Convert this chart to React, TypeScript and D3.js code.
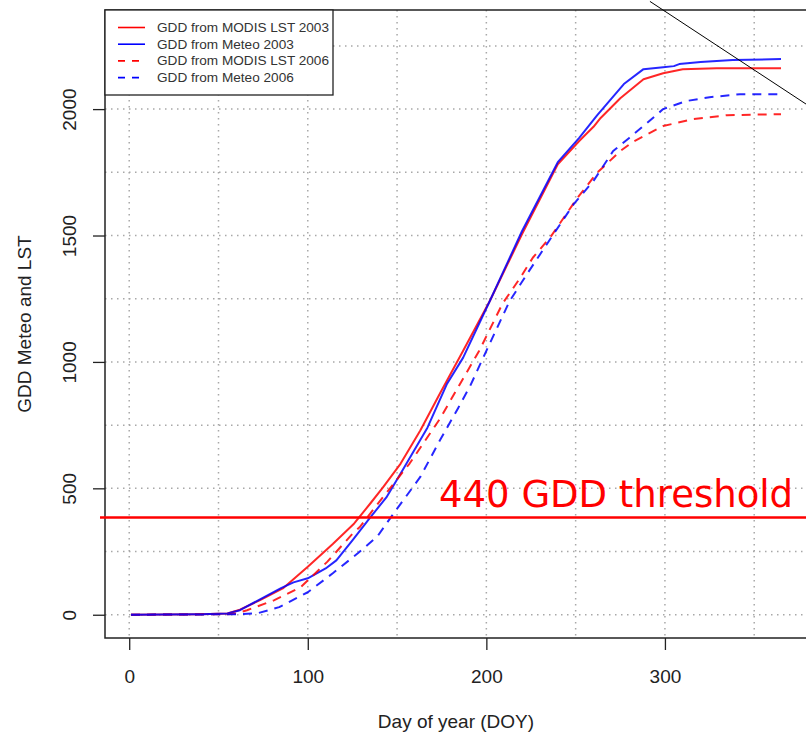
import React, { useEffect, useRef } from 'react';
import * as d3 from 'd3';

const WIDTH = 806;
const HEIGHT = 734;

// GDD from MODIS LST 2003 (red solid)
const doyLst2003 = [1, 20, 40, 55, 62, 73, 86, 100, 114, 126, 135, 142, 152, 163, 174, 187, 202, 220, 240, 252, 260, 264, 275, 288, 299, 310, 329, 365];
const gddLst2003 = [0, 1, 2, 5, 20, 57, 104, 190, 280, 361, 440, 503, 598, 729, 875, 1044, 1242, 1506, 1782, 1874, 1930, 1965, 2043, 2118, 2142, 2158, 2162, 2162];

// GDD from Meteo 2003 (blue solid)
const doyMeteo2003 = [1, 20, 40, 55, 62, 73, 85, 92, 100, 110, 116, 125, 135, 144, 152, 167, 178, 187, 202, 220, 240, 252, 262, 277, 288, 299, 305, 308, 320, 338, 365];
const gddMeteo2003 = [0, 1, 2, 5, 18, 60, 105, 128, 144, 183, 215, 294, 385, 464, 559, 740, 914, 1017, 1242, 1518, 1790, 1886, 1975, 2099, 2158, 2166, 2170, 2178, 2186, 2194, 2198];

// GDD from MODIS LST 2006 (red dashed)
const doyLst2006 = [1, 30, 55, 60, 66, 81, 96, 111, 125, 129, 142, 157, 174, 185, 196, 209, 219, 226, 236, 251, 262, 275, 282, 290, 299, 316, 335, 365];
const gddLst2006 = [0, 1, 2, 5, 18, 57, 109, 210, 320, 346, 464, 598, 775, 910, 1044, 1230, 1333, 1412, 1495, 1649, 1748, 1834, 1870, 1900, 1933, 1961, 1976, 1980];

// GDD from Meteo 2006 (blue dashed)
const doyMeteo2006 = [1, 30, 60, 72, 84, 100, 114, 128, 139, 148, 163, 174, 184, 191, 200, 213, 223, 237, 249, 260, 271, 280, 290, 299, 312, 325, 342, 365];
const gddMeteo2006 = [0, 1, 2, 6, 30, 89, 164, 243, 310, 400, 545, 690, 815, 906, 1044, 1240, 1350, 1499, 1625, 1716, 1834, 1886, 1945, 2000, 2032, 2047, 2059, 2059];

const seriesNames = ['GDD from MODIS LST 2003', 'GDD from Meteo 2003', 'GDD from MODIS LST 2006', 'GDD from Meteo 2006'];
const seriesColors = ['#ff0000', '#0000ff', '#ff0000', '#0000ff'];
const seriesDashed = [false, false, true, true];

const xTicks = [0, 100, 200, 300];
const yTicks = [0, 500, 1000, 1500, 2000];
const xGrid = [0, 50, 100, 150, 200, 250, 300, 350];
const yGrid = [0, 250, 500, 750, 1000, 1250, 1500, 1750, 2000, 2250];

const thresholdValue = 385;
const thresholdLabel = '440 GDD threshold';

// stray diagonal line in the top right corner (data coords)
const diagDoy = [291.6, 379];
const diagGdd = [2426, 2020];

const FONT = '"Liberation Sans", Arial, Helvetica, sans-serif';

const App = () => {
  const svgRef = useRef(null);

  useEffect(() => {
    const svg = d3.select(svgRef.current);
    svg.selectAll('*').remove();

    const x = d3.scaleLinear().domain([-13.56, 379.56]).range([105, 807]);
    const y = d3.scaleLinear().domain([-92, 2392]).range([638, 10]);

    svg.append('rect').attr('width', WIDTH).attr('height', HEIGHT).attr('fill', '#fff');

    // grid
    const grid = svg.append('g');
    grid
      .selectAll('.vg')
      .data(xGrid)
      .enter()
      .append('line')
      .attr('x1', (d) => x(d))
      .attr('x2', (d) => x(d))
      .attr('y1', 10)
      .attr('y2', 638)
      .attr('stroke', '#a8a8a8')
      .attr('stroke-width', 1.5)
      .attr('stroke-dasharray', '1.5,4.5');
    grid
      .selectAll('.hg')
      .data(yGrid)
      .enter()
      .append('line')
      .attr('x1', 105)
      .attr('x2', 807)
      .attr('y1', (d) => y(d))
      .attr('y2', (d) => y(d))
      .attr('stroke', '#a8a8a8')
      .attr('stroke-width', 1.5)
      .attr('stroke-dasharray', '1.5,4.5');

    // series
    const series = [
      [doyLst2003, gddLst2003],
      [doyMeteo2003, gddMeteo2003],
      [doyLst2006, gddLst2006],
      [doyMeteo2006, gddMeteo2006],
    ];
    const line = d3
      .line()
      .x((d) => x(d[0]))
      .y((d) => y(d[1]));

    series.forEach(([doys, gdds], i) => {
      const pts = doys.map((d, j) => [d, gdds[j]]);
      svg
        .append('path')
        .attr('d', line(pts))
        .attr('fill', 'none')
        .attr('stroke', seriesColors[i])
        .attr('stroke-width', 2)
        .attr('stroke-opacity', 0.85)
        .attr('stroke-linejoin', 'round')
        .attr('stroke-dasharray', seriesDashed[i] ? '9,7' : null);
    });

    // frame
    svg
      .append('rect')
      .attr('x', 105)
      .attr('y', 10)
      .attr('width', 702)
      .attr('height', 628)
      .attr('fill', 'none')
      .attr('stroke', '#222')
      .attr('stroke-width', 1.5);

    // x axis
    const xAxis = svg
      .append('g')
      .attr('transform', 'translate(0,638)')
      .call(d3.axisBottom(x).tickValues(xTicks).tickSize(12).tickFormat(d3.format('d')));
    xAxis.select('.domain').remove();
    xAxis.selectAll('line').attr('stroke', '#222').attr('stroke-width', 1.3);
    xAxis
      .selectAll('text')
      .attr('y', 45)
      .attr('dy', 0)
      .attr('fill', '#222')
      .style('font-family', FONT)
      .style('font-size', '19px');

    // y axis
    const yAxis = svg
      .append('g')
      .attr('transform', 'translate(105,0)')
      .call(d3.axisLeft(y).tickValues(yTicks).tickSize(12).tickFormat(d3.format('d')));
    yAxis.select('.domain').remove();
    yAxis.selectAll('line').attr('stroke', '#222').attr('stroke-width', 1.3);
    yAxis
      .selectAll('text')
      .attr('x', null)
      .attr('dy', null)
      .attr('transform', 'translate(-29,0) rotate(-90)')
      .attr('text-anchor', 'middle')
      .attr('fill', '#222')
      .style('font-family', FONT)
      .style('font-size', '19px');

    // axis titles
    svg
      .append('text')
      .attr('x', 456)
      .attr('y', 728)
      .attr('text-anchor', 'middle')
      .attr('fill', '#222')
      .style('font-family', FONT)
      .style('font-size', '19px')
      .text('Day of year (DOY)');
    svg
      .append('text')
      .attr('transform', 'translate(31,324) rotate(-90)')
      .attr('text-anchor', 'middle')
      .attr('fill', '#222')
      .style('font-family', FONT)
      .style('font-size', '19px')
      .text('GDD Meteo and LST');

    // legend
    const legend = svg.append('g');
    legend
      .append('rect')
      .attr('x', 105)
      .attr('y', 10)
      .attr('width', 228)
      .attr('height', 85)
      .attr('fill', '#fff')
      .attr('stroke', '#222')
      .attr('stroke-width', 1.3);
    const rows = legend
      .selectAll('.row')
      .data(seriesNames)
      .enter()
      .append('g')
      .attr('transform', (d, i) => `translate(0,${27.5 + i * 16.7})`);
    rows
      .append('line')
      .attr('x1', 118)
      .attr('x2', 145)
      .attr('stroke', (d, i) => seriesColors[i])
      .attr('stroke-width', 1.6)
      .attr('stroke-dasharray', (d, i) => (seriesDashed[i] ? '7,7' : null));
    rows
      .append('text')
      .attr('x', 157)
      .attr('y', 4.5)
      .attr('fill', '#333')
      .style('font-family', FONT)
      .style('font-size', '13.6px')
      .text((d) => d);

    // threshold
    svg
      .append('line')
      .attr('x1', 100)
      .attr('x2', WIDTH)
      .attr('y1', y(thresholdValue))
      .attr('y2', y(thresholdValue))
      .attr('stroke', '#ff0000')
      .attr('stroke-width', 2.5);
    svg
      .append('text')
      .attr('x', 439)
      .attr('y', 507)
      .attr('fill', '#ff0000')
      .style('font-family', '"DejaVu Sans", sans-serif')
      .style('font-size', '37px')
      .text(thresholdLabel);

    // diagonal stroke
    svg
      .append('line')
      .attr('x1', x(diagDoy[0]))
      .attr('y1', y(diagGdd[0]))
      .attr('x2', x(diagDoy[1]))
      .attr('y2', y(diagGdd[1]))
      .attr('stroke', '#000')
      .attr('stroke-width', 1);
  }, []);

  return (
    <svg
      ref={svgRef}
      width={WIDTH}
      height={HEIGHT}
      style={{ position: 'absolute', left: 0, top: 0, display: 'block' }}
    ></svg>
  );
};

export default App;
